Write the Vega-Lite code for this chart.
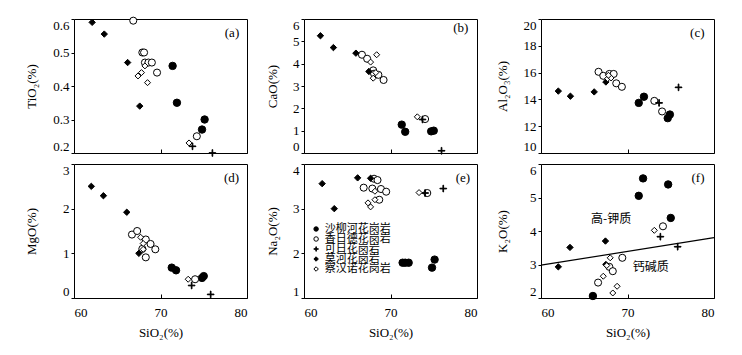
{
  "$schema": "https://vega.github.io/schema/vega-lite/v6.json",
  "background": "white",
  "padding": {"left": 24, "top": 14, "right": 0, "bottom": 0},
  "columns": 3,
  "spacing": {"row": 4, "column": 17},
  "resolve": {"scale": {"x": "independent", "y": "independent"}},
  "config": {
    "font": "Liberation Serif",
    "view": {"stroke": "black", "strokeWidth": 1},
    "axis": {"domain": false, "grid": false, "tickColor": "black", "labelFont": "Liberation Serif", "labelFontSize": 13, "labelColor": "black", "labelFlush": true, "labelOverlap": false, "titleFont": "Liberation Serif", "titleFontSize": 13, "titleFontWeight": "normal", "titleColor": "black", "tickCount": 20},
    "axisY": {"tickSize": 3, "labelPadding": 2},
    "axisX": {"tickSize": -4, "labelPadding": 12, "titlePadding": 7}
  },
  "datasets": {
    "a": [
      {"g": "沙柳河花岗岩", "x": 71.4, "y": 0.46}, {"g": "沙柳河花岗岩", "x": 71.9, "y": 0.35}, {"g": "沙柳河花岗岩", "x": 75.1, "y": 0.30}, {"g": "沙柳河花岗岩", "x": 74.8, "y": 0.27},
      {"g": "香日德花岗岩", "x": 66.85, "y": 0.595}, {"g": "香日德花岗岩", "x": 67.9, "y": 0.50}, {"g": "香日德花岗岩", "x": 68.1, "y": 0.50}, {"g": "香日德花岗岩", "x": 68.2, "y": 0.47}, {"g": "香日德花岗岩", "x": 68.6, "y": 0.47}, {"g": "香日德花岗岩", "x": 69.0, "y": 0.47}, {"g": "香日德花岗岩", "x": 69.6, "y": 0.44}, {"g": "香日德花岗岩", "x": 74.2, "y": 0.25},
      {"g": "可日花岗岩", "x": 73.7, "y": 0.22}, {"g": "可日花岗岩", "x": 76.0, "y": 0.20},
      {"g": "莫河花岗岩", "x": 62.1, "y": 0.59}, {"g": "莫河花岗岩", "x": 63.5, "y": 0.555}, {"g": "莫河花岗岩", "x": 66.2, "y": 0.47}, {"g": "莫河花岗岩", "x": 67.6, "y": 0.34},
      {"g": "察汉诺花岗岩", "x": 67.4, "y": 0.43}, {"g": "察汉诺花岗岩", "x": 67.8, "y": 0.44}, {"g": "察汉诺花岗岩", "x": 68.2, "y": 0.46}, {"g": "察汉诺花岗岩", "x": 68.5, "y": 0.41}, {"g": "察汉诺花岗岩", "x": 73.3, "y": 0.23}
    ],
    "b": [
      {"g": "沙柳河花岗岩", "x": 71.3, "y": 1.27}, {"g": "沙柳河花岗岩", "x": 71.7, "y": 0.95}, {"g": "沙柳河花岗岩", "x": 74.7, "y": 0.97}, {"g": "沙柳河花岗岩", "x": 75.0, "y": 1.0},
      {"g": "香日德花岗岩", "x": 66.7, "y": 4.4}, {"g": "香日德花岗岩", "x": 67.3, "y": 4.22}, {"g": "香日德花岗岩", "x": 68.0, "y": 3.7}, {"g": "香日德花岗岩", "x": 68.1, "y": 3.55}, {"g": "香日德花岗岩", "x": 68.6, "y": 3.5}, {"g": "香日德花岗岩", "x": 69.2, "y": 3.27}, {"g": "香日德花岗岩", "x": 74.0, "y": 1.52},
      {"g": "可日花岗岩", "x": 73.7, "y": 1.5}, {"g": "可日花岗岩", "x": 75.9, "y": 0.1},
      {"g": "莫河花岗岩", "x": 61.9, "y": 5.25}, {"g": "莫河花岗岩", "x": 63.4, "y": 4.72}, {"g": "莫河花岗岩", "x": 66.0, "y": 4.47}, {"g": "莫河花岗岩", "x": 67.5, "y": 3.65},
      {"g": "察汉诺花岗岩", "x": 67.7, "y": 4.07}, {"g": "察汉诺花岗岩", "x": 68.4, "y": 4.4}, {"g": "察汉诺花岗岩", "x": 68.0, "y": 3.35}, {"g": "察汉诺花岗岩", "x": 68.3, "y": 3.6}, {"g": "察汉诺花岗岩", "x": 73.1, "y": 1.62}
    ],
    "c": [
      {"g": "沙柳河花岗岩", "x": 71.3, "y": 13.74}, {"g": "沙柳河花岗岩", "x": 71.9, "y": 14.2}, {"g": "沙柳河花岗岩", "x": 74.65, "y": 12.6}, {"g": "沙柳河花岗岩", "x": 74.9, "y": 12.87},
      {"g": "香日德花岗岩", "x": 66.65, "y": 16.06}, {"g": "香日德花岗岩", "x": 67.2, "y": 15.76}, {"g": "香日德花岗岩", "x": 67.9, "y": 15.9}, {"g": "香日德花岗岩", "x": 68.4, "y": 15.9}, {"g": "香日德花岗岩", "x": 68.7, "y": 15.2}, {"g": "香日德花岗岩", "x": 69.35, "y": 14.94}, {"g": "香日德花岗岩", "x": 73.1, "y": 13.89}, {"g": "香日德花岗岩", "x": 74.0, "y": 13.1},
      {"g": "可日花岗岩", "x": 73.65, "y": 13.74}, {"g": "可日花岗岩", "x": 75.9, "y": 14.9},
      {"g": "莫河花岗岩", "x": 62.0, "y": 14.62}, {"g": "莫河花岗岩", "x": 63.4, "y": 14.24}, {"g": "莫河花岗岩", "x": 66.15, "y": 14.56}, {"g": "莫河花岗岩", "x": 67.5, "y": 15.3},
      {"g": "察汉诺花岗岩", "x": 67.7, "y": 15.55}, {"g": "察汉诺花岗岩", "x": 68.1, "y": 15.6}, {"g": "察汉诺花岗岩", "x": 67.8, "y": 15.8}
    ],
    "d": [
      {"g": "沙柳河花岗岩", "x": 71.3, "y": 0.68}, {"g": "沙柳河花岗岩", "x": 71.8, "y": 0.62}, {"g": "沙柳河花岗岩", "x": 74.8, "y": 0.45}, {"g": "沙柳河花岗岩", "x": 75.0, "y": 0.49},
      {"g": "香日德花岗岩", "x": 66.7, "y": 1.42}, {"g": "香日德花岗岩", "x": 67.3, "y": 1.5}, {"g": "香日德花岗岩", "x": 68.3, "y": 1.31}, {"g": "香日德花岗岩", "x": 68.85, "y": 1.21}, {"g": "香日德花岗岩", "x": 69.4, "y": 1.09}, {"g": "香日德花岗岩", "x": 68.3, "y": 0.91}, {"g": "香日德花岗岩", "x": 67.9, "y": 1.1}, {"g": "香日德花岗岩", "x": 74.0, "y": 0.42},
      {"g": "可日花岗岩", "x": 73.6, "y": 0.28}, {"g": "可日花岗岩", "x": 75.8, "y": 0.08},
      {"g": "莫河花岗岩", "x": 62.0, "y": 2.5}, {"g": "莫河花岗岩", "x": 63.4, "y": 2.29}, {"g": "莫河花岗岩", "x": 66.1, "y": 1.92}, {"g": "莫河花岗岩", "x": 67.5, "y": 1.0},
      {"g": "察汉诺花岗岩", "x": 67.7, "y": 1.36}, {"g": "察汉诺花岗岩", "x": 68.0, "y": 1.22}, {"g": "察汉诺花岗岩", "x": 68.0, "y": 1.09}, {"g": "察汉诺花岗岩", "x": 73.2, "y": 0.42}
    ],
    "e": [
      {"g": "沙柳河花岗岩", "x": 71.4, "y": 1.79}, {"g": "沙柳河花岗岩", "x": 71.7, "y": 1.79}, {"g": "沙柳河花岗岩", "x": 72.1, "y": 1.79}, {"g": "沙柳河花岗岩", "x": 74.8, "y": 1.68}, {"g": "沙柳河花岗岩", "x": 75.1, "y": 1.86},
      {"g": "香日德花岗岩", "x": 66.9, "y": 3.47}, {"g": "香日德花岗岩", "x": 68.1, "y": 3.67}, {"g": "香日德花岗岩", "x": 68.5, "y": 3.64}, {"g": "香日德花岗岩", "x": 67.9, "y": 3.45}, {"g": "香日德花岗岩", "x": 68.9, "y": 3.44}, {"g": "香日德花岗岩", "x": 69.5, "y": 3.38}, {"g": "香日德花岗岩", "x": 68.7, "y": 3.2}, {"g": "香日德花岗岩", "x": 74.25, "y": 3.35},
      {"g": "可日花岗岩", "x": 74.0, "y": 3.35}, {"g": "可日花岗岩", "x": 76.1, "y": 3.45},
      {"g": "莫河花岗岩", "x": 62.1, "y": 3.56}, {"g": "莫河花岗岩", "x": 63.5, "y": 3.0}, {"g": "莫河花岗岩", "x": 66.2, "y": 3.69}, {"g": "莫河花岗岩", "x": 67.7, "y": 3.68},
      {"g": "察汉诺花岗岩", "x": 67.4, "y": 3.13}, {"g": "察汉诺花岗岩", "x": 67.7, "y": 3.04}, {"g": "察汉诺花岗岩", "x": 68.2, "y": 3.39}, {"g": "察汉诺花岗岩", "x": 68.2, "y": 3.2}, {"g": "察汉诺花岗岩", "x": 73.3, "y": 3.36}
    ],
    "f": [
      {"g": "沙柳河花岗岩", "x": 71.8, "y": 5.57}, {"g": "沙柳河花岗岩", "x": 71.3, "y": 5.05}, {"g": "沙柳河花岗岩", "x": 74.7, "y": 5.39}, {"g": "沙柳河花岗岩", "x": 75.0, "y": 4.39}, {"g": "沙柳河花岗岩", "x": 66.0, "y": 2.06},
      {"g": "香日德花岗岩", "x": 66.6, "y": 2.46}, {"g": "香日德花岗岩", "x": 67.9, "y": 2.93}, {"g": "香日德花岗岩", "x": 68.3, "y": 2.8}, {"g": "香日德花岗岩", "x": 69.4, "y": 3.2}, {"g": "香日德花岗岩", "x": 74.1, "y": 4.14},
      {"g": "可日花岗岩", "x": 73.8, "y": 3.83}, {"g": "可日花岗岩", "x": 75.8, "y": 3.53},
      {"g": "莫河花岗岩", "x": 62.0, "y": 2.93}, {"g": "莫河花岗岩", "x": 63.35, "y": 3.51}, {"g": "莫河花岗岩", "x": 67.45, "y": 3.7}, {"g": "莫河花岗岩", "x": 67.5, "y": 3.0},
      {"g": "察汉诺花岗岩", "x": 67.2, "y": 2.65}, {"g": "察汉诺花岗岩", "x": 68.0, "y": 3.2}, {"g": "察汉诺花岗岩", "x": 68.3, "y": 2.15}, {"g": "察汉诺花岗岩", "x": 68.8, "y": 2.35}, {"g": "察汉诺花岗岩", "x": 73.1, "y": 4.02}, {"g": "察汉诺花岗岩", "x": 67.6, "y": 2.97}
    ],
    "fline": [{"x": 60, "y": 2.98}, {"x": 80, "y": 3.8}],
    "legend": [{"g": "沙柳河花岗岩"}, {"g": "香日德花岗岩"}, {"g": "可日花岗岩"}, {"g": "莫河花岗岩"}, {"g": "察汉诺花岗岩"}],
    "one": [{"k": 1}]
  },
  "concat": [
    {
      "width": 173, "height": 134,
      "layer": [
        {
          "data": {"name": "a"},
          "mark": {"type": "point", "stroke": "black", "strokeWidth": 1, "opacity": 1, "fillOpacity": 1},
          "encoding": {
            "x": {"field": "x", "type": "quantitative", "scale": {"domain": [60, 80], "nice": false, "zero": false}, "axis": {"labels": false, "title": null, "values": [60, 70, 80], "tickCount": 20, "tickSize": -4}},
            "y": {"field": "y", "type": "quantitative", "scale": {"domain": [0.2, 0.6], "nice": false, "zero": false}, "axis": {"title": "TiO₂(%)", "values": [0.2, 0.3, 0.4, 0.5, 0.6], "tickCount": 20, "format": ".1f", "labelOverlap": false, "tickSize": 3, "labelPadding": 2, "labelFontSize": 13, "titleFontSize": 13, "titleFontWeight": "normal", "minExtent": 22, "maxExtent": 22, "titlePadding": 14}},
            "shape": {"field": "g", "type": "nominal", "scale": {"domain": ["沙柳河花岗岩", "香日德花岗岩", "可日花岗岩", "莫河花岗岩", "察汉诺花岗岩"], "range": ["circle", "circle", "M-1,-0.1H1V0.1H-1Z M-0.1,-1H0.1V1H-0.1Z", "diamond", "diamond"]}, "legend": null},
            "fill": {"field": "g", "type": "nominal", "scale": {"domain": ["沙柳河花岗岩", "香日德花岗岩", "可日花岗岩", "莫河花岗岩", "察汉诺花岗岩"], "range": ["#000000", "#ffffff", "#000000", "#000000", "#ffffff"]}, "legend": null},
            "size": {"field": "g", "type": "ordinal", "scale": {"domain": ["沙柳河花岗岩", "香日德花岗岩", "可日花岗岩", "莫河花岗岩", "察汉诺花岗岩"], "range": [55, 36, 64, 40, 36]}, "legend": null}
          }
        },
        {"data": {"name": "one"}, "mark": {"type": "text", "text": "(a)", "align": "right", "baseline": "middle", "fontSize": 13, "font": "Liberation Serif", "color": "black"}, "encoding": {"x": {"datum": 79.1}, "y": {"datum": 0.558}}}
      ]
    },
    {
      "width": 173, "height": 134,
      "layer": [
        {
          "data": {"name": "b"},
          "mark": {"type": "point", "stroke": "black", "strokeWidth": 1, "opacity": 1, "fillOpacity": 1},
          "encoding": {
            "x": {"field": "x", "type": "quantitative", "scale": {"domain": [60, 80], "nice": false, "zero": false}, "axis": {"labels": false, "title": null, "values": [60, 70, 80], "tickCount": 20, "tickSize": -4}},
            "y": {"field": "y", "type": "quantitative", "scale": {"domain": [0, 6], "nice": false, "zero": false}, "axis": {"title": "CaO(%)", "values": [0, 1, 2, 3, 4, 5, 6], "tickCount": 20, "format": "d", "labelOverlap": false, "tickSize": 3, "labelPadding": 2, "labelFontSize": 13, "titleFontSize": 13, "titleFontWeight": "normal", "minExtent": 12, "maxExtent": 12, "titlePadding": 13}},
            "shape": {"field": "g", "type": "nominal", "scale": {"domain": ["沙柳河花岗岩", "香日德花岗岩", "可日花岗岩", "莫河花岗岩", "察汉诺花岗岩"], "range": ["circle", "circle", "M-1,-0.1H1V0.1H-1Z M-0.1,-1H0.1V1H-0.1Z", "diamond", "diamond"]}, "legend": null},
            "fill": {"field": "g", "type": "nominal", "scale": {"domain": ["沙柳河花岗岩", "香日德花岗岩", "可日花岗岩", "莫河花岗岩", "察汉诺花岗岩"], "range": ["#000000", "#ffffff", "#000000", "#000000", "#ffffff"]}, "legend": null},
            "size": {"field": "g", "type": "ordinal", "scale": {"domain": ["沙柳河花岗岩", "香日德花岗岩", "可日花岗岩", "莫河花岗岩", "察汉诺花岗岩"], "range": [55, 36, 64, 40, 36]}, "legend": null}
          }
        },
        {"data": {"name": "one"}, "mark": {"type": "text", "text": "(b)", "align": "right", "baseline": "middle", "fontSize": 13, "font": "Liberation Serif", "color": "black"}, "encoding": {"x": {"datum": 79.0}, "y": {"datum": 5.6}}}
      ]
    },
    {
      "width": 173, "height": 134,
      "layer": [
        {
          "data": {"name": "c"},
          "mark": {"type": "point", "stroke": "black", "strokeWidth": 1, "opacity": 1, "fillOpacity": 1},
          "encoding": {
            "x": {"field": "x", "type": "quantitative", "scale": {"domain": [60, 80], "nice": false, "zero": false}, "axis": {"labels": false, "title": null, "values": [60, 70, 80], "tickCount": 20, "tickSize": -4}},
            "y": {"field": "y", "type": "quantitative", "scale": {"domain": [10, 20], "nice": false, "zero": false}, "axis": {"title": "Al₂O₃(%)", "values": [10, 12, 14, 16, 18, 20], "tickCount": 20, "format": "d", "labelOverlap": false, "tickSize": 3, "labelPadding": 2, "labelFontSize": 13, "titleFontSize": 13, "titleFontWeight": "normal", "minExtent": 18, "maxExtent": 18, "titlePadding": 14}},
            "shape": {"field": "g", "type": "nominal", "scale": {"domain": ["沙柳河花岗岩", "香日德花岗岩", "可日花岗岩", "莫河花岗岩", "察汉诺花岗岩"], "range": ["circle", "circle", "M-1,-0.1H1V0.1H-1Z M-0.1,-1H0.1V1H-0.1Z", "diamond", "diamond"]}, "legend": null},
            "fill": {"field": "g", "type": "nominal", "scale": {"domain": ["沙柳河花岗岩", "香日德花岗岩", "可日花岗岩", "莫河花岗岩", "察汉诺花岗岩"], "range": ["#000000", "#ffffff", "#000000", "#000000", "#ffffff"]}, "legend": null},
            "size": {"field": "g", "type": "ordinal", "scale": {"domain": ["沙柳河花岗岩", "香日德花岗岩", "可日花岗岩", "莫河花岗岩", "察汉诺花岗岩"], "range": [55, 36, 64, 40, 36]}, "legend": null}
          }
        },
        {"data": {"name": "one"}, "mark": {"type": "text", "text": "(c)", "align": "right", "baseline": "middle", "fontSize": 13, "font": "Liberation Serif", "color": "black"}, "encoding": {"x": {"datum": 78.9}, "y": {"datum": 18.96}}}
      ]
    },
    {
      "width": 173, "height": 134,
      "layer": [
        {
          "data": {"name": "d"},
          "mark": {"type": "point", "stroke": "black", "strokeWidth": 1, "opacity": 1, "fillOpacity": 1},
          "encoding": {
            "x": {"field": "x", "type": "quantitative", "scale": {"domain": [60, 80], "nice": false, "zero": false}, "axis": {"title": "SiO₂(%)", "values": [60, 70, 80], "tickCount": 20, "format": "d", "tickSize": -4, "labelPadding": 12, "labelFontSize": 13, "titleFontSize": 13, "titleFontWeight": "normal", "titlePadding": 7}},
            "y": {"field": "y", "type": "quantitative", "scale": {"domain": [0, 3], "nice": false, "zero": false}, "axis": {"title": "MgO(%)", "values": [0, 1, 2, 3], "tickCount": 20, "format": "d", "labelOverlap": false, "tickSize": 3, "labelPadding": 2, "labelFontSize": 13, "titleFontSize": 13, "titleFontWeight": "normal", "minExtent": 22, "maxExtent": 22, "titlePadding": 14}},
            "shape": {"field": "g", "type": "nominal", "scale": {"domain": ["沙柳河花岗岩", "香日德花岗岩", "可日花岗岩", "莫河花岗岩", "察汉诺花岗岩"], "range": ["circle", "circle", "M-1,-0.1H1V0.1H-1Z M-0.1,-1H0.1V1H-0.1Z", "diamond", "diamond"]}, "legend": null},
            "fill": {"field": "g", "type": "nominal", "scale": {"domain": ["沙柳河花岗岩", "香日德花岗岩", "可日花岗岩", "莫河花岗岩", "察汉诺花岗岩"], "range": ["#000000", "#ffffff", "#000000", "#000000", "#ffffff"]}, "legend": null},
            "size": {"field": "g", "type": "ordinal", "scale": {"domain": ["沙柳河花岗岩", "香日德花岗岩", "可日花岗岩", "莫河花岗岩", "察汉诺花岗岩"], "range": [55, 36, 64, 40, 36]}, "legend": null}
          }
        },
        {"data": {"name": "one"}, "mark": {"type": "text", "text": "(d)", "align": "right", "baseline": "middle", "fontSize": 13, "font": "Liberation Serif", "color": "black"}, "encoding": {"x": {"datum": 79.1}, "y": {"datum": 2.69}}}
      ]
    },
    {
      "width": 173, "height": 134,
      "layer": [
        {
          "data": {"name": "e"},
          "mark": {"type": "point", "stroke": "black", "strokeWidth": 1, "opacity": 1, "fillOpacity": 1},
          "encoding": {
            "x": {"field": "x", "type": "quantitative", "scale": {"domain": [60, 80], "nice": false, "zero": false}, "axis": {"title": "SiO₂(%)", "values": [60, 70, 80], "tickCount": 20, "format": "d", "tickSize": -4, "labelPadding": 12, "labelFontSize": 13, "titleFontSize": 13, "titleFontWeight": "normal", "titlePadding": 7}},
            "y": {"field": "y", "type": "quantitative", "scale": {"domain": [1, 4], "nice": false, "zero": false}, "axis": {"title": "Na₂O(%)", "values": [1, 2, 3, 4], "tickCount": 20, "format": "d", "labelOverlap": false, "tickSize": 3, "labelPadding": 2, "labelFontSize": 13, "titleFontSize": 13, "titleFontWeight": "normal", "minExtent": 12, "maxExtent": 12, "titlePadding": 13}},
            "shape": {"field": "g", "type": "nominal", "scale": {"domain": ["沙柳河花岗岩", "香日德花岗岩", "可日花岗岩", "莫河花岗岩", "察汉诺花岗岩"], "range": ["circle", "circle", "M-1,-0.1H1V0.1H-1Z M-0.1,-1H0.1V1H-0.1Z", "diamond", "diamond"]}, "legend": null},
            "fill": {"field": "g", "type": "nominal", "scale": {"domain": ["沙柳河花岗岩", "香日德花岗岩", "可日花岗岩", "莫河花岗岩", "察汉诺花岗岩"], "range": ["#000000", "#ffffff", "#000000", "#000000", "#ffffff"]}, "legend": null},
            "size": {"field": "g", "type": "ordinal", "scale": {"domain": ["沙柳河花岗岩", "香日德花岗岩", "可日花岗岩", "莫河花岗岩", "察汉诺花岗岩"], "range": [55, 36, 64, 40, 36]}, "legend": null}
          }
        },
        {"data": {"name": "one"}, "mark": {"type": "text", "text": "(e)", "align": "right", "baseline": "middle", "fontSize": 13, "font": "Liberation Serif", "color": "black"}, "encoding": {"x": {"datum": 79.2}, "y": {"datum": 3.69}}},
        {
          "data": {"name": "legend"},
          "transform": [{"filter": "datum.g === '沙柳河花岗岩'"}],
          "layer": [
            {"mark": {"type": "point", "stroke": "black", "strokeWidth": 1, "opacity": 1, "fillOpacity": 1, "size": 20}, "encoding": {"x": {"datum": 61.4}, "y": {"datum": 2.545}, "shape": {"field": "g", "type": "nominal", "legend": null}, "fill": {"field": "g", "type": "nominal", "legend": null}}},
            {"mark": {"type": "text", "align": "left", "baseline": "middle", "fontSize": 11, "font": "Noto Sans CJK SC", "color": "black"}, "encoding": {"x": {"datum": 62.4}, "y": {"datum": 2.545}, "text": {"field": "g", "type": "nominal"}}}
          ]
        },
        {
          "data": {"name": "legend"},
          "transform": [{"filter": "datum.g === '香日德花岗岩'"}],
          "layer": [
            {"mark": {"type": "point", "stroke": "black", "strokeWidth": 1, "opacity": 1, "fillOpacity": 1, "size": 20}, "encoding": {"x": {"datum": 61.4}, "y": {"datum": 2.321}, "shape": {"field": "g", "type": "nominal", "legend": null}, "fill": {"field": "g", "type": "nominal", "legend": null}}},
            {"mark": {"type": "text", "align": "left", "baseline": "middle", "fontSize": 11, "font": "Noto Sans CJK SC", "color": "black"}, "encoding": {"x": {"datum": 62.4}, "y": {"datum": 2.321}, "text": {"field": "g", "type": "nominal"}}}
          ]
        },
        {
          "data": {"name": "legend"},
          "transform": [{"filter": "datum.g === '可日花岗岩'"}],
          "layer": [
            {"mark": {"type": "point", "stroke": "black", "strokeWidth": 1, "opacity": 1, "fillOpacity": 1, "size": 20}, "encoding": {"x": {"datum": 61.4}, "y": {"datum": 2.097}, "shape": {"field": "g", "type": "nominal", "legend": null}, "fill": {"field": "g", "type": "nominal", "legend": null}}},
            {"mark": {"type": "text", "align": "left", "baseline": "middle", "fontSize": 11, "font": "Noto Sans CJK SC", "color": "black"}, "encoding": {"x": {"datum": 62.4}, "y": {"datum": 2.097}, "text": {"field": "g", "type": "nominal"}}}
          ]
        },
        {
          "data": {"name": "legend"},
          "transform": [{"filter": "datum.g === '莫河花岗岩'"}],
          "layer": [
            {"mark": {"type": "point", "stroke": "black", "strokeWidth": 1, "opacity": 1, "fillOpacity": 1, "size": 20}, "encoding": {"x": {"datum": 61.4}, "y": {"datum": 1.873}, "shape": {"field": "g", "type": "nominal", "legend": null}, "fill": {"field": "g", "type": "nominal", "legend": null}}},
            {"mark": {"type": "text", "align": "left", "baseline": "middle", "fontSize": 11, "font": "Noto Sans CJK SC", "color": "black"}, "encoding": {"x": {"datum": 62.4}, "y": {"datum": 1.873}, "text": {"field": "g", "type": "nominal"}}}
          ]
        },
        {
          "data": {"name": "legend"},
          "transform": [{"filter": "datum.g === '察汉诺花岗岩'"}],
          "layer": [
            {"mark": {"type": "point", "stroke": "black", "strokeWidth": 1, "opacity": 1, "fillOpacity": 1, "size": 20}, "encoding": {"x": {"datum": 61.4}, "y": {"datum": 1.649}, "shape": {"field": "g", "type": "nominal", "legend": null}, "fill": {"field": "g", "type": "nominal", "legend": null}}},
            {"mark": {"type": "text", "align": "left", "baseline": "middle", "fontSize": 11, "font": "Noto Sans CJK SC", "color": "black"}, "encoding": {"x": {"datum": 62.4}, "y": {"datum": 1.649}, "text": {"field": "g", "type": "nominal"}}}
          ]
        }
      ]
    },
    {
      "width": 173, "height": 134,
      "layer": [
        {
          "data": {"name": "fline"},
          "mark": {"type": "line", "color": "black", "strokeWidth": 1.2},
          "encoding": {
            "x": {"field": "x", "type": "quantitative", "scale": {"domain": [60, 80], "nice": false, "zero": false}, "axis": {"title": "SiO₂(%)", "values": [60, 70, 80], "tickCount": 20, "format": "d", "tickSize": -4, "labelPadding": 12, "labelFontSize": 13, "titleFontSize": 13, "titleFontWeight": "normal", "titlePadding": 7}},
            "y": {"field": "y", "type": "quantitative", "scale": {"domain": [2, 6], "nice": false, "zero": false}, "axis": {"title": "K₂O(%)", "values": [2, 3, 4, 5, 6], "tickCount": 20, "format": "d", "labelOverlap": false, "tickSize": 3, "labelPadding": 2, "labelFontSize": 13, "titleFontSize": 13, "titleFontWeight": "normal", "minExtent": 18, "maxExtent": 18, "titlePadding": 14}}
          }
        },
        {
          "data": {"name": "f"},
          "mark": {"type": "point", "stroke": "black", "strokeWidth": 1, "opacity": 1, "fillOpacity": 1},
          "encoding": {
            "x": {"field": "x", "type": "quantitative"},
            "y": {"field": "y", "type": "quantitative"},
            "shape": {"field": "g", "type": "nominal", "scale": {"domain": ["沙柳河花岗岩", "香日德花岗岩", "可日花岗岩", "莫河花岗岩", "察汉诺花岗岩"], "range": ["circle", "circle", "M-1,-0.1H1V0.1H-1Z M-0.1,-1H0.1V1H-0.1Z", "diamond", "diamond"]}, "legend": null},
            "fill": {"field": "g", "type": "nominal", "scale": {"domain": ["沙柳河花岗岩", "香日德花岗岩", "可日花岗岩", "莫河花岗岩", "察汉诺花岗岩"], "range": ["#000000", "#ffffff", "#000000", "#000000", "#ffffff"]}, "legend": null},
            "size": {"field": "g", "type": "ordinal", "scale": {"domain": ["沙柳河花岗岩", "香日德花岗岩", "可日花岗岩", "莫河花岗岩", "察汉诺花岗岩"], "range": [55, 36, 64, 40, 36]}, "legend": null}
          }
        },
        {"data": {"name": "one"}, "mark": {"type": "text", "text": "(f)", "align": "right", "baseline": "middle", "fontSize": 13, "font": "Liberation Serif", "color": "black"}, "encoding": {"x": {"datum": 78.9}, "y": {"datum": 5.59}}},
        {"data": {"name": "one"}, "mark": {"type": "text", "text": "高-钾质", "align": "center", "baseline": "middle", "fontSize": 12, "font": "Noto Sans CJK SC", "color": "black"}, "encoding": {"x": {"datum": 68.1}, "y": {"datum": 4.37}}},
        {"data": {"name": "one"}, "mark": {"type": "text", "text": "钙碱质", "align": "center", "baseline": "middle", "fontSize": 12, "font": "Noto Sans CJK SC", "color": "black"}, "encoding": {"x": {"datum": 72.7}, "y": {"datum": 2.93}}}
      ]
    }
  ]
}
